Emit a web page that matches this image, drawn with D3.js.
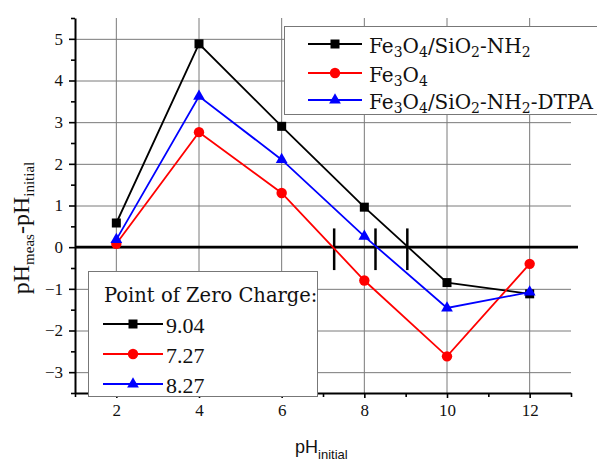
<!DOCTYPE html>
<html><head><meta charset="utf-8">
<script src="https://cdn.jsdelivr.net/npm/d3@7"></script>
<style>body{margin:0;background:#fff}svg{display:block}</style>
</head><body><svg id="c" width="597" height="462"></svg>
<script>
// ---- data ----
const categories = [2, 4, 6, 8, 10, 12];
const valuesNH2 = [0.58, 4.88, 2.90, 0.96, -0.85, -1.12];
const valuesFe3O4 = [0.08, 2.76, 1.30, -0.80, -2.62, -0.40];
const valuesDTPA = [0.18, 3.62, 2.10, 0.26, -1.46, -1.08];
const pzcValues = [9.04, 7.27, 8.27];
const pzcLabels = ["9.04", "7.27", "8.27"];
const xTickValues = [2, 4, 6, 8, 10, 12];
const yTickValues = [-3, -2, -1, 0, 1, 2, 3, 4, 5];
const xMinorTicks = [1, 3, 5, 7, 9, 11, 13];
const yMinorTicks = [-3.5, -2.5, -1.5, -0.5, 0.5, 1.5, 2.5, 3.5, 4.5, 5.5];

// legend label parts: [text, isSubscript]
const legendLabels = [
  [["Fe",0],["3",1],["O",0],["4",1],["/SiO",0],["2",1],["-NH",0],["2",1]],
  [["Fe",0],["3",1],["O",0],["4",1]],
  [["Fe",0],["3",1],["O",0],["4",1],["/SiO",0],["2",1],["-NH",0],["2",1],["-DTPA",0]]
];

const series = [
  {values: valuesNH2, color: "#000000", shape: "square"},
  {values: valuesFe3O4, color: "#ff0000", shape: "circle"},
  {values: valuesDTPA, color: "#0000ff", shape: "triangle"}
];

const SERIF = "'Liberation Serif', serif";
const WSERIF = "'DejaVu Serif', serif";
const SANS = "'Liberation Sans', Arial, sans-serif";

const svg = d3.select("#c");
const x = d3.scaleLinear().domain([1, 13]).range([75, 571]);
const y = d3.scaleLinear().domain([-3.5, 5.5]).range([393, 18]);

// grid
const grid = svg.append("g").attr("stroke", "#7a7a7a").attr("stroke-width", 1);
grid.selectAll("line.h").data(yTickValues).join("line")
  .attr("x1", x(1)).attr("x2", x(13)).attr("y1", d => y(d) + 0.5).attr("y2", d => y(d) + 0.5);
grid.selectAll("line.v").data(xTickValues).join("line")
  .attr("x1", d => x(d)).attr("x2", d => x(d)).attr("y1", y(5.5)).attr("y2", y(-3.5));

// zero line
svg.append("line").attr("x1", x(1)).attr("x2", x(13) + 7)
  .attr("y1", y(0)).attr("y2", y(0)).attr("stroke", "#000").attr("stroke-width", 2.6);

// PZC markers
svg.selectAll("line.pzc").data(pzcValues).join("line")
  .attr("x1", d => x(d)).attr("x2", d => x(d))
  .attr("y1", y(0.45)).attr("y2", y(-0.55))
  .attr("stroke", "#000").attr("stroke-width", 2.5);

function drawMarker(g, shape, color, cx, cy) {
  if (shape === "square") {
    g.append("rect").attr("x", cx - 4.5).attr("y", cy - 4.5).attr("width", 9).attr("height", 9).attr("fill", color);
  } else if (shape === "circle") {
    g.append("circle").attr("cx", cx).attr("cy", cy).attr("r", 5.2).attr("fill", color);
  } else {
    g.append("path").attr("d", d3.symbol(d3.symbolTriangle, 60)())
      .attr("transform", `translate(${cx},${cy})`).attr("fill", color);
  }
}

// series
const line = d3.line().x((d, i) => x(categories[i])).y(d => y(d));
series.forEach(s => {
  const g = svg.append("g");
  g.append("path").attr("d", line(s.values)).attr("fill", "none")
    .attr("stroke", s.color).attr("stroke-width", 1.8);
  s.values.forEach((v, i) => drawMarker(g, s.shape, s.color, x(categories[i]), y(v)));
});

// axes
svg.append("g").attr("transform", `translate(${x(1)},0)`)
  .call(d3.axisLeft(y).tickValues(yTickValues).tickSize(6).tickSizeOuter(0).tickPadding(6).tickFormat(d3.format("d")));
svg.append("g").attr("transform", `translate(${x(1)},0)`)
  .call(d3.axisLeft(y).tickValues(yMinorTicks).tickSize(4).tickSizeOuter(0).tickFormat(""))
  .call(g => g.select(".domain").remove());
svg.append("g").attr("transform", `translate(0,${y(-3.5)})`)
  .call(d3.axisBottom(x).tickValues(xTickValues).tickSize(5).tickSizeOuter(0).tickPadding(6).tickFormat(d3.format("d")));
svg.append("g").attr("transform", `translate(0,${y(-3.5)})`)
  .call(d3.axisBottom(x).tickValues(xMinorTicks).tickSize(4).tickSizeOuter(0).tickFormat(""))
  .call(g => g.select(".domain").remove());
svg.selectAll(".domain").attr("stroke-width", 2);
svg.selectAll(".tick line").attr("stroke-width", 1.6);
svg.selectAll(".tick text").style("font-family", SERIF).style("font-size", "17px").attr("fill", "#111");

// axis titles
const yt = svg.append("text").attr("transform", "translate(29,228) rotate(-90)")
  .attr("text-anchor", "middle").style("font-family", SERIF).attr("fill", "#111");
yt.append("tspan").style("font-size", "24px").text("pH");
yt.append("tspan").style("font-size", "15px").attr("dy", 5).text("meas");
yt.append("tspan").style("font-size", "24px").attr("dy", -5).text("-pH");
yt.append("tspan").style("font-size", "15px").attr("dy", 5).text("initial");

const xt = svg.append("text").attr("x", 295).attr("y", 453)
  .style("font-family", SANS).attr("fill", "#111");
xt.append("tspan").style("font-size", "18px").text("pH");
xt.append("tspan").style("font-size", "13px").attr("dy", 6).text("initial");

// legend 1
const L1 = svg.append("g");
L1.append("rect").attr("x", 284.5).attr("y", 26.5).attr("width", 330).attr("height", 88)
  .attr("fill", "#fff").attr("stroke", "#777").attr("stroke-width", 1);
const rows1 = [44, 73, 100];
series.forEach((s, i) => {
  L1.append("line").attr("x1", 308).attr("x2", 362).attr("y1", rows1[i]).attr("y2", rows1[i])
    .attr("stroke", s.color).attr("stroke-width", 1.8);
  drawMarker(L1, s.shape, s.color, 335, rows1[i]);
  const t = L1.append("text").attr("x", 369).attr("y", rows1[i] + 8.5)
    .style("font-family", WSERIF).style("font-size", "20px").attr("fill", "#111");
  let sub = false;
  legendLabels[i].forEach(([txt, isSub]) => {
    const ts = t.append("tspan").text(txt);
    if (isSub) { ts.style("font-size", "14px"); if (!sub) { ts.attr("dy", 4); sub = true; } }
    else if (sub) { ts.attr("dy", -4); sub = false; }
  });
});

// legend 2
const L2 = svg.append("g");
L2.append("rect").attr("x", 88.5).attr("y", 271.5).attr("width", 229).attr("height", 125)
  .attr("fill", "#fff").attr("stroke", "#777").attr("stroke-width", 1);
L2.append("text").attr("x", 104).attr("y", 302).style("font-family", WSERIF).style("font-size", "19.5px")
  .attr("fill", "#111").text("Point of Zero Charge:");
const rows2 = [324, 354, 384];
series.forEach((s, i) => {
  L2.append("line").attr("x1", 103).attr("x2", 163).attr("y1", rows2[i]).attr("y2", rows2[i])
    .attr("stroke", s.color).attr("stroke-width", 1.8);
  drawMarker(L2, s.shape, s.color, 133, rows2[i]);
  L2.append("text").attr("x", 166).attr("y", rows2[i] + 8.5).style("font-family", SERIF)
    .style("font-size", "22px").attr("fill", "#111").text(pzcLabels[i]);
});
</script></body></html>
